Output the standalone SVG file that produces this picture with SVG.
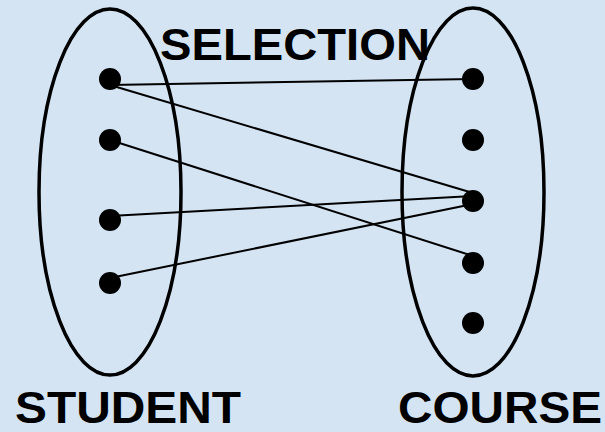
<svg xmlns="http://www.w3.org/2000/svg" width="605" height="432" viewBox="0 0 605 432">
<style>
.set{fill:none;stroke:#000;stroke-width:3.5}
.dot{fill:#000}
.lbl{font-family:"Liberation Sans",Arial,sans-serif;font-weight:bold;font-size:44px;fill:#000}
.edge{stroke:#000;stroke-width:2;fill:none}
</style>
<rect width="605" height="432" fill="#d4e4f3"/>
<g id="student">
<ellipse class="set" cx="110" cy="192" rx="71" ry="183"/>
<circle class="dot" cx="110" cy="79" r="11"/>
<circle class="dot" cx="110" cy="140" r="11"/>
<circle class="dot" cx="110" cy="220" r="11"/>
<circle class="dot" cx="110" cy="283" r="11"/>
<text class="lbl" x="15" y="422.5" textLength="226" lengthAdjust="spacingAndGlyphs">STUDENT</text>
</g>
<g id="course">
<ellipse class="set" cx="473" cy="192" rx="71" ry="184"/>
<circle class="dot" cx="473" cy="79" r="11"/>
<circle class="dot" cx="473" cy="140" r="11"/>
<circle class="dot" cx="473" cy="201" r="11"/>
<circle class="dot" cx="473" cy="263" r="11"/>
<circle class="dot" cx="473" cy="323" r="11"/>
<text class="lbl" x="398" y="422.5" textLength="204" lengthAdjust="spacingAndGlyphs">COURSE</text>
</g>
<g id="selection">
<text class="lbl" x="160" y="60" textLength="270" lengthAdjust="spacingAndGlyphs">SELECTION</text>
</g>
<g id="connectors">
<line class="edge" x1="110" y1="85" x2="473" y2="79"/>
<line class="edge" x1="110" y1="85" x2="473" y2="193"/>
<line class="edge" x1="110" y1="140" x2="473" y2="256"/>
<line class="edge" x1="110" y1="216" x2="473" y2="196"/>
<line class="edge" x1="110" y1="278" x2="473" y2="204"/>
</g>
</svg>
